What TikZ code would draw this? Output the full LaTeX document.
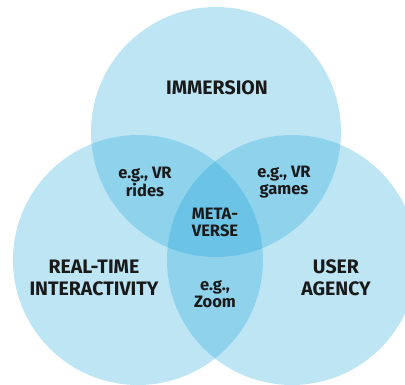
\documentclass[tikz,border=0pt]{standalone}
\usepackage{fontspec}
\setmainfont{Fira Sans}
\usepackage{tikz}
\usetikzlibrary{positioning,calc}
\definecolor{vennBlue}{RGB}{5,155,213}
\definecolor{labelInk}{HTML}{1A1A1A}

\begin{document}
\begin{tikzpicture}[
    x=1pt, y=-1pt,
    ring/.style={circle, fill=vennBlue, fill opacity=0.26, draw=none, minimum size=250pt, inner sep=0pt},
    setLabel/.style={font=\bfseries\fontsize{19.5}{22}\selectfont, text=labelInk, align=center, inner sep=0pt},
    exLabel/.style={font=\bfseries\fontsize{16.5}{17}\selectfont, text=labelInk, align=center, inner sep=0pt}
]
\useasboundingbox (0,0) rectangle (405,385);

% the three sets
\node[ring] (immersion) at (216,132) {};
\node[ring] (realtime) at (138,260) {};
\node[ring] (agency) at (292,260) {};

% set names
\node[setLabel] (lImm) at ($(immersion)+(1,-44)$) {IMMERSION};
\node[setLabel] (lReal) at ($(realtime)+(-44,18)$) {REAL-TIME\\INTERACTIVITY};
\node[setLabel] (lAgency) at ($(agency)+(44,18)$) {USER\\AGENCY};

% overlaps
\node[exLabel] (rides) at (145,182) {e.g., VR\\rides};
\node[exLabel] (games) at (284,182) {e.g., VR\\games};
\node[exLabel] (zoom) at (215,294) {e.g.,\\Zoom};
\node[exLabel] (meta) at (215,222) {META-\\VERSE};

\end{tikzpicture}
\end{document}
